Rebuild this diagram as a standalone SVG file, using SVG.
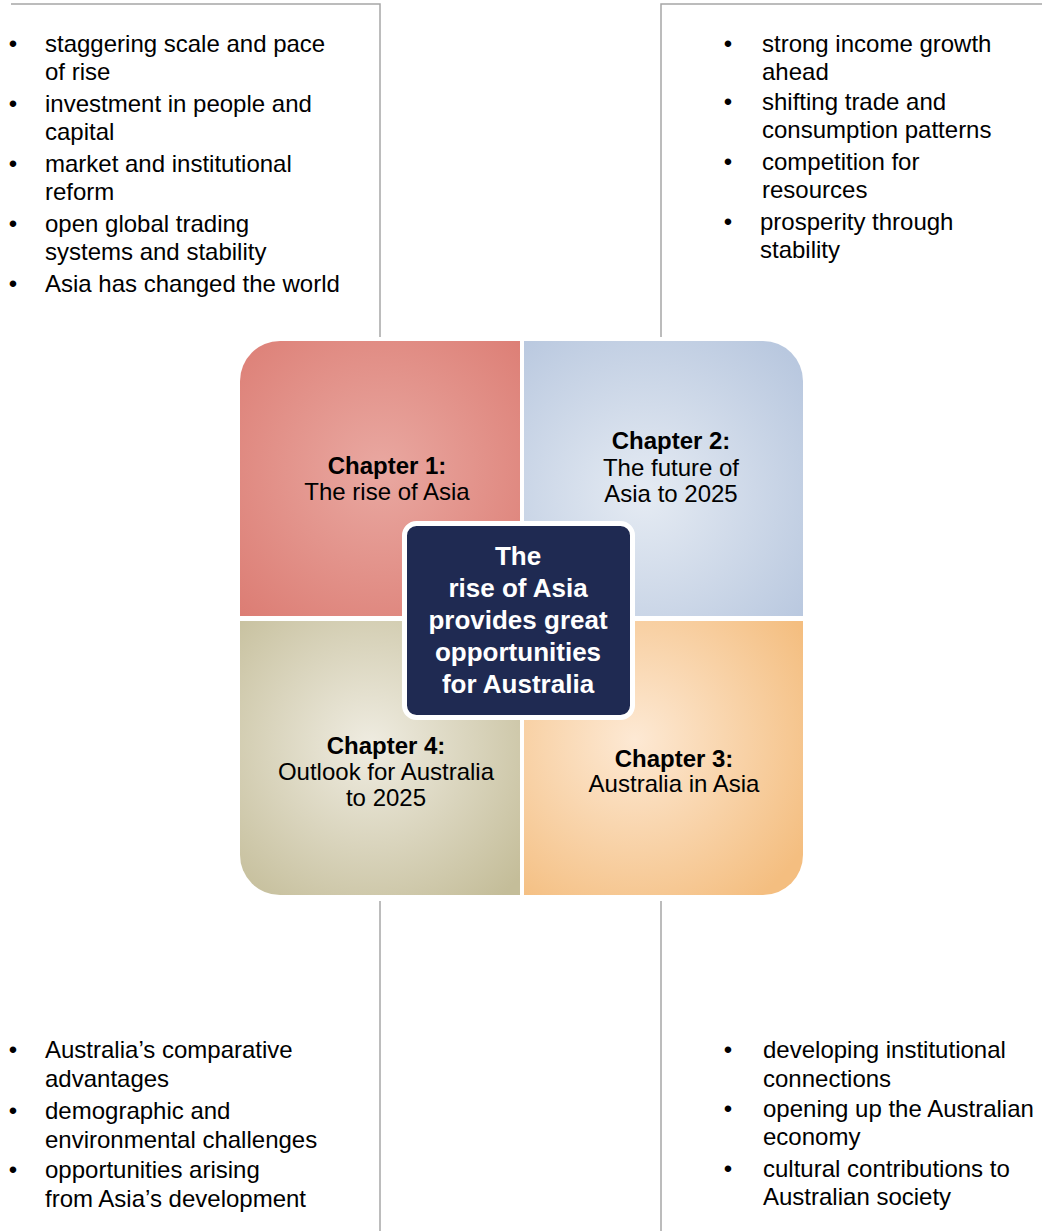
<svg xmlns="http://www.w3.org/2000/svg" width="1042" height="1231" viewBox="0 0 1042 1231">
<style>
.t{font-family:"Liberation Sans",Arial,sans-serif;font-size:24px;fill:#000}
.b{font-weight:bold}
.c{text-anchor:middle}
.w{font-family:"Liberation Sans",Arial,sans-serif;font-size:26px;font-weight:bold;fill:#fff;text-anchor:middle}
.ln{stroke:#a6a6a6;stroke-width:1.5;fill:none}
</style>
<defs>
<radialGradient id="gRed" gradientUnits="userSpaceOnUse" cx="380" cy="470" r="200">
<stop offset="0" stop-color="#e9a8a1"/><stop offset="1" stop-color="#dc7d74"/></radialGradient>
<radialGradient id="gBlue" gradientUnits="userSpaceOnUse" cx="645" cy="495" r="200">
<stop offset="0" stop-color="#e5ebf3"/><stop offset="1" stop-color="#b9c8df"/></radialGradient>
<radialGradient id="gOlive" gradientUnits="userSpaceOnUse" cx="370" cy="745" r="200">
<stop offset="0" stop-color="#efece1"/><stop offset="1" stop-color="#c4bd99"/></radialGradient>
<radialGradient id="gOrange" gradientUnits="userSpaceOnUse" cx="635" cy="740" r="200">
<stop offset="0" stop-color="#fde9d4"/><stop offset="1" stop-color="#f4be80"/></radialGradient>
</defs>
<rect width="1042" height="1231" fill="#fff"/>
<g id="connectors">
<polyline class="ln" points="11,4 380,4 380,337"/>
<polyline class="ln" points="1042,4 661,4 661,337"/>
<line class="ln" x1="380" y1="901" x2="380" y2="1231"/>
<line class="ln" x1="661" y1="901" x2="661" y2="1231"/>
</g>
<g id="ch1">
<path d="M240,381 A40,40 0 0 1 280,341 L520,341 L520,616 L240,616 Z" fill="url(#gRed)"/>
<text class="t b c" x="387" y="474">Chapter 1:</text>
<text class="t c" x="387" y="500">The rise of Asia</text>
</g>
<g id="ch2">
<path d="M524,341 L763,341 A40,40 0 0 1 803,381 L803,616 L524,616 Z" fill="url(#gBlue)"/>
<text class="t b c" x="671" y="449">Chapter 2:</text>
<text class="t c" x="671" y="476">The future of</text>
<text class="t c" x="671" y="502">Asia to 2025</text>
</g>
<g id="ch4">
<path d="M240,621 L520,621 L520,895 L280,895 A40,40 0 0 1 240,855 Z" fill="url(#gOlive)"/>
<text class="t b c" x="386" y="754">Chapter 4:</text>
<text class="t c" x="386" y="780">Outlook for Australia</text>
<text class="t c" x="386" y="806">to 2025</text>
</g>
<g id="ch3">
<path d="M524,621 L803,621 L803,855 A40,40 0 0 1 763,895 L524,895 Z" fill="url(#gOrange)"/>
<text class="t b c" x="674" y="767">Chapter 3:</text>
<text class="t c" x="674" y="792">Australia in Asia</text>
</g>
<g id="center">
<rect x="404.5" y="523.5" width="228" height="194" rx="12" fill="#1f2a52" stroke="#fff" stroke-width="5"/>
<text class="w" x="518" y="565">The</text>
<text class="w" x="518" y="597">rise of Asia</text>
<text class="w" x="518" y="629">provides great</text>
<text class="w" x="518" y="661">opportunities</text>
<text class="w" x="518" y="693">for Australia</text>
</g>
<g id="list-tl" class="t">
<text x="13" y="52" class="c">•</text><text x="45" y="52">staggering scale and pace</text>
<text x="45" y="80">of rise</text>
<text x="13" y="112" class="c">•</text><text x="45" y="112">investment in people and</text>
<text x="45" y="140">capital</text>
<text x="13" y="172" class="c">•</text><text x="45" y="172">market and institutional</text>
<text x="45" y="200">reform</text>
<text x="13" y="232" class="c">•</text><text x="45" y="232">open global trading</text>
<text x="45" y="260">systems and stability</text>
<text x="13" y="292" class="c">•</text><text x="45" y="292">Asia has changed the world</text>
</g>
<g id="list-tr" class="t">
<text x="728" y="52" class="c">•</text><text x="762" y="52">strong income growth</text>
<text x="762" y="80">ahead</text>
<text x="728" y="110" class="c">•</text><text x="762" y="110">shifting trade and</text>
<text x="762" y="138">consumption patterns</text>
<text x="728" y="170" class="c">•</text><text x="762" y="170">competition for</text>
<text x="762" y="198">resources</text>
<text x="728" y="230" class="c">•</text><text x="760" y="230">prosperity through</text>
<text x="760" y="258">stability</text>
</g>
<g id="list-bl" class="t">
<text x="13" y="1058" class="c">•</text><text x="45" y="1058">Australia’s comparative</text>
<text x="45" y="1087">advantages</text>
<text x="13" y="1119" class="c">•</text><text x="45" y="1119">demographic and</text>
<text x="45" y="1148">environmental challenges</text>
<text x="13" y="1178" class="c">•</text><text x="45" y="1178">opportunities arising</text>
<text x="45" y="1207">from Asia’s development</text>
</g>
<g id="list-br" class="t">
<text x="728" y="1058" class="c">•</text><text x="763" y="1058">developing institutional</text>
<text x="763" y="1087">connections</text>
<text x="728" y="1117" class="c">•</text><text x="763" y="1117">opening up the Australian</text>
<text x="763" y="1145">economy</text>
<text x="728" y="1177" class="c">•</text><text x="763" y="1177">cultural contributions to</text>
<text x="763" y="1205">Australian society</text>
</g>
</svg>
